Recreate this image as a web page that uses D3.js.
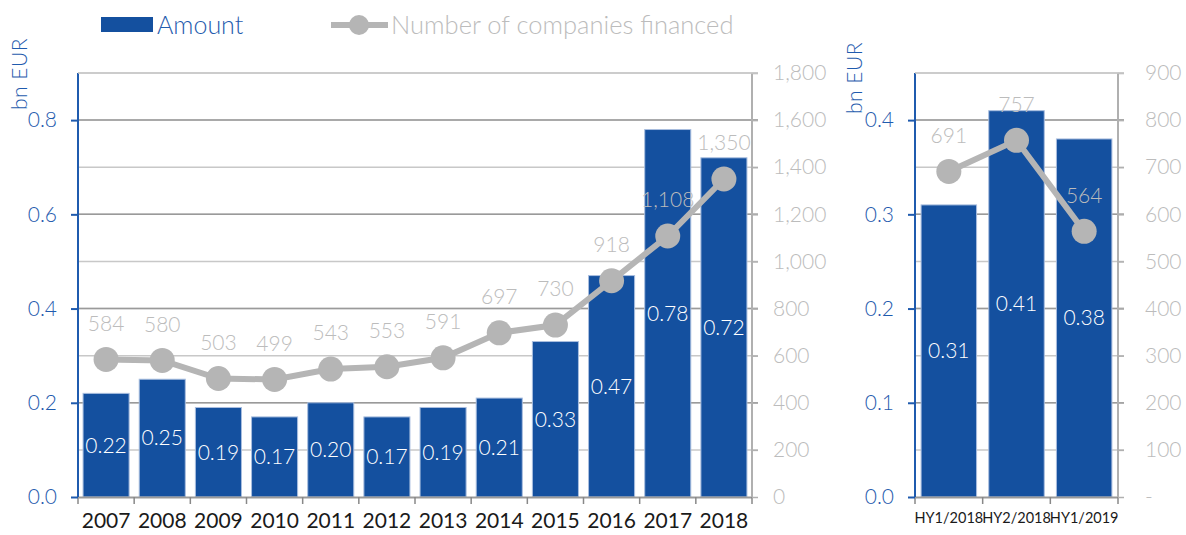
<!DOCTYPE html>
<html>
<head>
<meta charset="utf-8">
<title>Amount and number of companies financed</title>
<script src="https://cdn.jsdelivr.net/npm/d3@7"></script>
<style>
body { margin: 0; background: #fff; font-family: Lato, "Open Sans", sans-serif; }
svg text { font-family: Lato, "Open Sans", sans-serif; font-weight: 300; }
</style>
</head>
<body>
<div id="chart"></div>
<script>
// yearly data (left panel)
var years = ["2007","2008","2009","2010","2011","2012","2013","2014","2015","2016","2017","2018"];
var amounts = [0.22, 0.25, 0.19, 0.17, 0.20, 0.17, 0.19, 0.21, 0.33, 0.47, 0.78, 0.72];
var companies = [584, 580, 503, 499, 543, 553, 591, 697, 730, 918, 1108, 1350];

// half-year data (right panel)
var halves = ["HY1/2018","HY2/2018","HY1/2019"];
var halfAmounts = [0.31, 0.41, 0.38];
var halfCompanies = [691, 757, 564];

// axis ticks
var leftTicks = [0, 0.2, 0.4, 0.6, 0.8];
var rightTicks = [0, 200, 400, 600, 800, 1000, 1200, 1400, 1600, 1800];
var halfLeftTicks = [0, 0.1, 0.2, 0.3, 0.4];
var halfRightTicks = [0, 100, 200, 300, 400, 500, 600, 700, 800, 900];

var blue = "#14509f", axisBlue = "#1f5bae", grey = "#b5b5b5", labelGrey = "#bcbcbc";

var svg = d3.select("#chart").append("svg")
    .attr("width", 1186)
    .attr("height", 535);

var fmtCount = d3.format(",");

function panel(opt) {
    var x = d3.scaleBand()
        .domain(opt.cats)
        .range([opt.x0, opt.x1])
        .paddingInner(0.18)
        .paddingOuter(0.09);
    var yL = d3.scaleLinear().domain([0, opt.maxL]).range([opt.yB, opt.yT]);
    var yR = d3.scaleLinear().domain([0, opt.maxR]).range([opt.yB, opt.yT]);

    var g = svg.append("g");

    // light grid from the right axis
    g.selectAll(".gridR")
        .data(opt.rTicks.slice(1))
      .enter().append("line")
        .attr("x1", opt.x0).attr("x2", opt.x1 + 6)
        .attr("y1", function(d) { return yR(d); })
        .attr("y2", function(d) { return yR(d); })
        .attr("stroke", "#c8c8c8").attr("stroke-width", 1.5);

    // darker grid from the left axis
    g.selectAll(".gridL")
        .data(opt.lTicks.slice(1))
      .enter().append("line")
        .attr("x1", opt.x0).attr("x2", opt.x1 + 6)
        .attr("y1", function(d) { return yL(d); })
        .attr("y2", function(d) { return yL(d); })
        .attr("stroke", "#9a9a9a").attr("stroke-width", 1.5);

    // bars
    g.selectAll(".bar")
        .data(opt.amounts)
      .enter().append("rect")
        .attr("x", function(d, i) { return x(opt.cats[i]); })
        .attr("y", function(d) { return yL(d); })
        .attr("width", x.bandwidth())
        .attr("height", function(d) { return yL(0) - yL(d); })
        .attr("fill", blue)
        .attr("stroke", "#a9bedf")
        .attr("stroke-width", 1);

    // bar labels
    g.selectAll(".barLabel")
        .data(opt.amounts)
      .enter().append("text")
        .attr("x", function(d, i) { return x(opt.cats[i]) + x.bandwidth() / 2; })
        .attr("y", function(d) { return (yL(d) + yL(0)) / 2; })
        .attr("dy", "0.35em")
        .attr("text-anchor", "middle")
        .attr("fill", "#fff")
        .style("font-size", "21px")
        .text(function(d) { return d.toFixed(2); });

    // x axis
    var xAxis = d3.axisBottom(x).tickSize(0).tickPadding(opt.xPad);
    var gx = g.append("g")
        .attr("transform", "translate(0," + opt.yB + ")")
        .call(xAxis);
    gx.select(".domain").attr("stroke", "#999").attr("stroke-width", 2);
    gx.selectAll("text").attr("fill", "#1a1a1a")
        .style("font-size", opt.xFont).style("font-weight", 400);
    // boundary ticks between categories
    var bounds = [opt.x0].concat(opt.cats.map(function(c) {
        return x(c) + x.bandwidth() + x.step() * x.paddingInner() / 2;
    }));
    bounds[bounds.length - 1] = opt.x1;
    gx.selectAll(".bound")
        .data(bounds)
      .enter().append("line")
        .attr("x1", function(d) { return d; }).attr("x2", function(d) { return d; })
        .attr("y1", 0).attr("y2", 7)
        .attr("stroke", "#888").attr("stroke-width", 1.5);

    // left axis
    var gl = g.append("g")
        .attr("transform", "translate(" + opt.x0 + ",0)")
        .call(d3.axisLeft(yL).tickValues(opt.lTicks).tickSize(7).tickPadding(14)
            .tickFormat(d3.format(".1f")).tickSizeOuter(0));
    gl.select(".domain").attr("stroke", axisBlue).attr("stroke-width", 2)
        .attr("d", "M0," + opt.yB + "V" + opt.yT);
    gl.selectAll("line").attr("stroke", axisBlue).attr("stroke-width", 2);
    gl.selectAll("text").attr("fill", axisBlue).style("font-size", "21px");

    // right axis
    var gr = g.append("g")
        .attr("transform", "translate(" + opt.x1 + ",0)")
        .call(d3.axisRight(yR).tickValues(opt.rTicks).tickSize(6).tickPadding(opt.rPad)
            .tickFormat(opt.rFormat).tickSizeOuter(0));
    gr.select(".domain").attr("stroke", "#b0b0b0").attr("stroke-width", 2)
        .attr("d", "M0," + opt.yB + "V" + opt.yT);
    gr.selectAll("line").attr("stroke", "#b0b0b0").attr("stroke-width", 1.5);
    gr.selectAll("text").attr("fill", labelGrey).style("font-size", "21px");

    // top border
    g.append("line")
        .attr("x1", opt.x0).attr("x2", opt.x1 + 6)
        .attr("y1", yR(opt.maxR)).attr("y2", yR(opt.maxR))
        .attr("stroke", "#c8c8c8").attr("stroke-width", 1.5);

    // count line
    var cx = function(d, i) { return x(opt.cats[i]) + x.bandwidth() / 2; };
    var line = d3.line().x(cx).y(function(d) { return yR(d); });
    g.append("path")
        .datum(opt.counts)
        .attr("d", line)
        .attr("fill", "none")
        .attr("stroke", grey)
        .attr("stroke-width", 6);
    g.selectAll(".dot")
        .data(opt.counts)
      .enter().append("circle")
        .attr("cx", cx)
        .attr("cy", function(d) { return yR(d); })
        .attr("r", 12.5)
        .attr("fill", grey);
    g.selectAll(".countLabel")
        .data(opt.counts)
      .enter().append("text")
        .attr("x", cx)
        .attr("y", function(d) { return yR(d) - 36; })
        .attr("dy", "0.35em")
        .attr("text-anchor", "middle")
        .attr("fill", labelGrey)
        .style("font-size", "21px")
        .text(function(d) { return fmtCount(d); });

    // axis title
    svg.append("text")
        .attr("transform", "translate(" + opt.titleX + "," + opt.titleY + ") rotate(-90)")
        .attr("text-anchor", "middle")
        .attr("dy", "0.35em")
        .attr("fill", axisBlue)
        .style("font-size", "21px")
        .style("letter-spacing", "0.5px")
        .text("bn EUR");
}

panel({
    cats: years, amounts: amounts, counts: companies,
    x0: 78, x1: 752, yT: 73, yB: 497,
    maxL: 0.9, maxR: 1800,
    lTicks: leftTicks, rTicks: rightTicks,
    rFormat: d3.format(","), rPad: 15,
    xFont: "21px", xPad: 16,
    titleX: 20, titleY: 74
});

panel({
    cats: halves, amounts: halfAmounts, counts: halfCompanies,
    x0: 915, x1: 1118, yT: 73, yB: 497,
    maxL: 0.45, maxR: 900,
    lTicks: halfLeftTicks, rTicks: halfRightTicks,
    rFormat: function(d) { return d === 0 ? "-" : d3.format(",")(d); }, rPad: 21,
    xFont: "14.5px", xPad: 16,
    titleX: 855, titleY: 78
});

// legend
var legend = svg.append("g");
legend.append("rect")
    .attr("x", 101).attr("y", 17).attr("width", 52).attr("height", 15)
    .attr("fill", blue);
legend.append("text")
    .attr("x", 157).attr("y", 25).attr("dy", "0.35em")
    .attr("fill", axisBlue).style("font-size", "25px")
    .text("Amount");
legend.append("line")
    .attr("x1", 331).attr("x2", 388).attr("y1", 25).attr("y2", 25)
    .attr("stroke", grey).attr("stroke-width", 6);
legend.append("circle")
    .attr("cx", 359).attr("cy", 25).attr("r", 10).attr("fill", grey);
legend.append("text")
    .attr("x", 391).attr("y", 25).attr("dy", "0.35em")
    .attr("fill", labelGrey).style("font-size", "25.5px")
    .text("Number of companies financed");
</script>
</body>
</html>
